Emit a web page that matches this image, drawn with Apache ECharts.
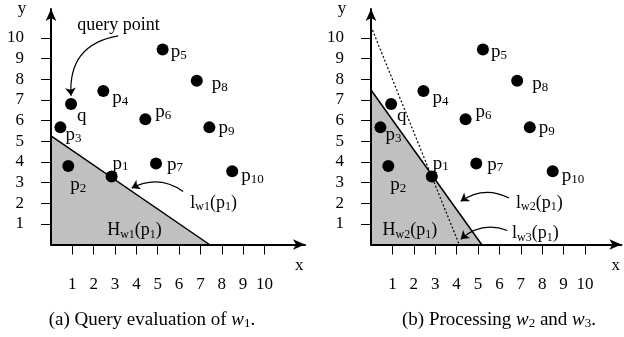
<!DOCTYPE html>
<html>
<head>
<meta charset="utf-8">
<script src="https://cdn.jsdelivr.net/npm/echarts@6/dist/echarts.min.js"></script>
<style>
    html, body {margin: 0; padding: 0; background: #fff;}
    #chart {width: 624px; height: 337px;}
</style>
</head>
<body>
<div id="chart"></div>
<script>
// data points (same in both panels)
var pointNames = ['q', 'p1', 'p2', 'p3', 'p4', 'p5', 'p6', 'p7', 'p8', 'p9', 'p10'];
var pointX = [0.94, 2.84, 0.81, 0.44, 2.45, 5.23, 4.42, 4.92, 6.83, 7.42, 8.49];
var pointY = [6.8, 3.29, 3.8, 5.67, 7.43, 9.44, 6.06, 3.92, 7.93, 5.67, 3.55];
var tickValues = [1, 2, 3, 4, 5, 6, 7, 8, 9, 10];

// half-plane boundary lines (endpoints on the axes)
var lw1Line = [[0, 5.26], [7.42, 0]];
var lw2Line = [[0, 7.48], [5.17, 0]];
var lw3Line = [[0, 10.56], [4.12, 0]];

// annotation arrows [from, to]
var arrowsA = [[[3.15, 10.1], [0.94, 7.2]], [[6.19, 2.57], [3.78, 2.73]]];
var arrowsB = [[[6.45, 2.25], [4.19, 2.09]], [[6.37, 0.68], [4.19, 0.25]]];

var serif = '"Liberation Serif", "DejaVu Serif", serif';

// label placement next to each point (style only)
var labelShift = {
    q: [-5, 12], p1: [-10, -13], p2: [-9, 19], p3: [-6, 8], p4: [-2, 7], p5: [-3, 3],
    p6: [-1, -7], p7: [0, 1], p8: [4, 3], p9: [-2, 1], p10: [-2, 5]
};

var rich = {
    a: {fontFamily: serif, fontSize: 19, lineHeight: 20, color: '#000'},
    b: {fontFamily: serif, fontSize: 13, lineHeight: 7, verticalAlign: 'bottom', color: '#000'},
    n: {fontFamily: serif, fontSize: 18, lineHeight: 20, color: '#000'},
    m: {fontFamily: serif, fontSize: 12, lineHeight: 7, verticalAlign: 'bottom', color: '#000'},
    i: {fontFamily: serif, fontSize: 19, lineHeight: 20, fontStyle: 'italic', color: '#000'}
};

function subLabel(name) {
    if (name.length == 1) return '{a|' + name + '}';
    return '{a|' + name.charAt(0) + '}{b|' + name.slice(1) + '}';
}

function pointSeries(idx) {
    return {
        type: 'scatter',
        xAxisIndex: idx, yAxisIndex: idx,
        symbolSize: 12,
        z: 6,
        itemStyle: {color: '#000', opacity: 1},
        data: pointNames.map(function (n, i) {
            return {
                name: n, value: [pointX[i], pointY[i]],
                label: {show: true, position: 'right', offset: labelShift[n], formatter: subLabel(n), rich: rich}
            };
        })
    };
}

function areaSeries(idx, line) {
    return {
        type: 'line', xAxisIndex: idx, yAxisIndex: idx,
        data: line, symbol: 'none', z: 1,
        lineStyle: {color: '#000', width: 1.5},
        areaStyle: {color: '#c0c0c0', opacity: 1}
    };
}

function arrowSeries(idx, list, curve) {
    return {
        type: 'lines', coordinateSystem: 'cartesian2d', xAxisIndex: idx, yAxisIndex: idx,
        symbol: ['none', 'arrow'], symbolSize: 8, z: 7,
        lineStyle: {color: '#000', width: 1.2, opacity: 1},
        data: list.map(function (a, i) {
            return {coords: a, lineStyle: {curveness: curve[i]}};
        })
    };
}

function textSeries(idx, items) {
    return {
        type: 'scatter', xAxisIndex: idx, yAxisIndex: idx, symbolSize: 1, z: 8,
        itemStyle: {color: 'rgba(0,0,0,0)', opacity: 1},
        data: items.map(function (t) {
            return {value: t[0], label: {show: true, position: 'inside', color: '#000', formatter: t[1], rich: rich}};
        })
    };
}

function xAxisOf(idx, max) {
    return {
        type: 'value', gridIndex: idx, min: 0, max: max, z: 5,
        name: 'x', nameLocation: 'end', nameGap: -10,
        nameTextStyle: {fontFamily: serif, fontSize: 17, color: '#000', verticalAlign: 'top', padding: [13, 0, 0, 0]},
        splitLine: {show: false},
        axisLine: {symbol: ['none', 'arrow'], symbolSize: [8, 12], lineStyle: {color: '#000', width: 2}},
        axisTick: {customValues: tickValues, length: 10, lineStyle: {color: '#000'}},
        axisLabel: {customValues: tickValues, margin: 32, fontFamily: serif, fontSize: 17, color: '#000'}
    };
}

function yAxisOf(idx) {
    return {
        type: 'value', gridIndex: idx, min: 0, max: 11.4, z: 5,
        name: 'y', nameLocation: 'end', nameGap: -8,
        nameTextStyle: {fontFamily: serif, fontSize: 17, color: '#000', padding: [0, 58, 0, 0]},
        splitLine: {show: false},
        axisLine: {symbol: ['none', 'arrow'], symbolSize: [8, 12], lineStyle: {color: '#000', width: 2}},
        axisTick: {customValues: tickValues, length: 10, lineStyle: {color: '#000'}},
        axisLabel: {customValues: tickValues, margin: 27, fontFamily: serif, fontSize: 17, color: '#000'}
    };
}

var chart = echarts.init(document.getElementById('chart'));

var option = {
    animation: false,
    title: [
        {text: '(a) Query evaluation of {i|w}{b|1}.', left: 147, top: 305, textAlign: 'center',
            textStyle: {fontFamily: serif, fontSize: 19, fontWeight: 'normal', color: '#000', rich: rich}},
        {text: '(b) Processing {i|w}{b|2} and {i|w}{b|3}.', left: 494, top: 305, textAlign: 'center',
            textStyle: {fontFamily: serif, fontSize: 19, fontWeight: 'normal', color: '#000', rich: rich}}
    ],
    grid: [
        {left: 51, top: 3, width: 254, height: 241.5},
        {left: 371, top: 3, width: 250.4, height: 241.5}
    ],
    xAxis: [xAxisOf(0, 11.9), xAxisOf(1, 11.7)],
    yAxis: [yAxisOf(0), yAxisOf(1)],
    series: [
        areaSeries(0, lw1Line),
        pointSeries(0),
        arrowSeries(0, arrowsA, [-0.45, -0.3]),
        textSeries(0, [
            [[3.16, 10.59], '{n|query point}'],
            [[7.62, 2.0], '{n|l}{m|w1}{n|(p}{m|1}{n|)}'],
            [[3.91, 0.68], '{n|H}{m|w1}{n|(p}{m|1}{n|)}']
        ]),
        areaSeries(1, lw2Line),
        {
            type: 'line', xAxisIndex: 1, yAxisIndex: 1, data: lw3Line, symbol: 'none', z: 2,
            lineStyle: {color: '#000', width: 1.2, type: [2, 2]}
        },
        pointSeries(1),
        arrowSeries(1, arrowsB, [-0.3, -0.3]),
        textSeries(1, [
            [[7.87, 2.02], '{n|l}{m|w2}{n|(p}{m|1}{n|)}'],
            [[7.68, 0.54], '{n|l}{m|w3}{n|(p}{m|1}{n|)}'],
            [[1.82, 0.68], '{n|H}{m|w2}{n|(p}{m|1}{n|)}']
        ])
    ]
};

chart.setOption(option);
</script>
</body>
</html>
